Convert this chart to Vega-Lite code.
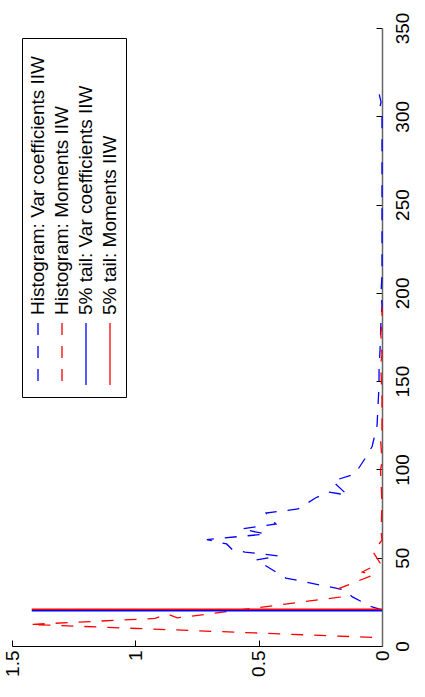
{
  "$schema": "https://vega.github.io/schema/vega-lite/v6.json",
  "width": 370,
  "height": 618,
  "autosize": {"type": "none"},
  "padding": {"left": 12, "top": 28, "right": 43, "bottom": 51},
  "background": "white",
  "config": {"view": {"stroke": null}},
  "data": {"values": [
    {"s": "Histogram: Var coefficients IIW", "xv": 20.4, "d": 0.0},
    {"s": "Histogram: Var coefficients IIW", "xv": 22.1, "d": 0.04},
    {"s": "Histogram: Var coefficients IIW", "xv": 27.8, "d": 0.12},
    {"s": "Histogram: Var coefficients IIW", "xv": 31.7, "d": 0.15},
    {"s": "Histogram: Var coefficients IIW", "xv": 38.5, "d": 0.39},
    {"s": "Histogram: Var coefficients IIW", "xv": 48.7, "d": 0.51},
    {"s": "Histogram: Var coefficients IIW", "xv": 51.0, "d": 0.42},
    {"s": "Histogram: Var coefficients IIW", "xv": 53.2, "d": 0.555},
    {"s": "Histogram: Var coefficients IIW", "xv": 54.4, "d": 0.605},
    {"s": "Histogram: Var coefficients IIW", "xv": 57.8, "d": 0.63},
    {"s": "Histogram: Var coefficients IIW", "xv": 60.3, "d": 0.71},
    {"s": "Histogram: Var coefficients IIW", "xv": 63.4, "d": 0.47},
    {"s": "Histogram: Var coefficients IIW", "xv": 66.3, "d": 0.57},
    {"s": "Histogram: Var coefficients IIW", "xv": 69.1, "d": 0.43},
    {"s": "Histogram: Var coefficients IIW", "xv": 72.0, "d": 0.45},
    {"s": "Histogram: Var coefficients IIW", "xv": 75.3, "d": 0.47},
    {"s": "Histogram: Var coefficients IIW", "xv": 77.6, "d": 0.34},
    {"s": "Histogram: Var coefficients IIW", "xv": 83.8, "d": 0.27},
    {"s": "Histogram: Var coefficients IIW", "xv": 87.2, "d": 0.22},
    {"s": "Histogram: Var coefficients IIW", "xv": 85.5, "d": 0.14},
    {"s": "Histogram: Var coefficients IIW", "xv": 93.4, "d": 0.2},
    {"s": "Histogram: Var coefficients IIW", "xv": 97.4, "d": 0.11},
    {"s": "Histogram: Var coefficients IIW", "xv": 105.9, "d": 0.07},
    {"s": "Histogram: Var coefficients IIW", "xv": 113.0, "d": 0.04},
    {"s": "Histogram: Var coefficients IIW", "xv": 125.0, "d": 0.02},
    {"s": "Histogram: Var coefficients IIW", "xv": 136.5, "d": 0.016},
    {"s": "Histogram: Var coefficients IIW", "xv": 147.8, "d": 0.012},
    {"s": "Histogram: Var coefficients IIW", "xv": 156.0, "d": 0.012},
    {"s": "Histogram: Var coefficients IIW", "xv": 167.6, "d": 0.008},
    {"s": "Histogram: Var coefficients IIW", "xv": 184.6, "d": 0.004},
    {"s": "Histogram: Var coefficients IIW", "xv": 193.0, "d": 0.0},
    {"s": "Histogram: Var coefficients IIW", "xv": 200.0, "d": 0.004},
    {"s": "Histogram: Var coefficients IIW", "xv": 210.0, "d": 0.0},
    {"s": "Histogram: Var coefficients IIW", "xv": 300.0, "d": 0.0},
    {"s": "Histogram: Var coefficients IIW", "xv": 303.0, "d": 0.012},
    {"s": "Histogram: Var coefficients IIW", "xv": 308.0, "d": 0.004},
    {"s": "Histogram: Var coefficients IIW", "xv": 313.0, "d": 0.012},
    {"s": "Histogram: Var coefficients IIW", "xv": 316.0, "d": 0.0},
    {"s": "Histogram: Moments IIW", "xv": 4.9, "d": 0.04},
    {"s": "Histogram: Moments IIW", "xv": 12.2, "d": 1.427},
    {"s": "Histogram: Moments IIW", "xv": 15.6, "d": 0.92},
    {"s": "Histogram: Moments IIW", "xv": 18.1, "d": 0.87},
    {"s": "Histogram: Moments IIW", "xv": 15.9, "d": 0.83},
    {"s": "Histogram: Moments IIW", "xv": 27.7, "d": 0.17},
    {"s": "Histogram: Moments IIW", "xv": 31.7, "d": 0.19},
    {"s": "Histogram: Moments IIW", "xv": 40.2, "d": 0.036},
    {"s": "Histogram: Moments IIW", "xv": 41.9, "d": 0.08},
    {"s": "Histogram: Moments IIW", "xv": 47.0, "d": 0.008},
    {"s": "Histogram: Moments IIW", "xv": 53.2, "d": 0.036},
    {"s": "Histogram: Moments IIW", "xv": 60.0, "d": 0.0},
    {"s": "Histogram: Moments IIW", "xv": 65.0, "d": 0.004},
    {"s": "Histogram: Moments IIW", "xv": 80.0, "d": 0.0},
    {"s": "Histogram: Moments IIW", "xv": 100.0, "d": 0.006},
    {"s": "Histogram: Moments IIW", "xv": 104.0, "d": 0.0},
    {"s": "Histogram: Moments IIW", "xv": 118.0, "d": 0.006},
    {"s": "Histogram: Moments IIW", "xv": 122.0, "d": 0.0},
    {"s": "Histogram: Moments IIW", "xv": 140.0, "d": 0.0},
    {"s": "Histogram: Moments IIW", "xv": 160.0, "d": 0.005},
    {"s": "Histogram: Moments IIW", "xv": 165.0, "d": 0.0},
    {"s": "Histogram: Moments IIW", "xv": 177.0, "d": 0.005},
    {"s": "Histogram: Moments IIW", "xv": 182.0, "d": 0.0},
    {"s": "Histogram: Moments IIW", "xv": 192.0, "d": 0.0},
    {"s": "5% tail: Var coefficients IIW", "xv": 19.95, "d": 0.0},
    {"s": "5% tail: Var coefficients IIW", "xv": 19.95, "d": 1.42},
    {"s": "5% tail: Moments IIW", "xv": 20.8, "d": 0.0},
    {"s": "5% tail: Moments IIW", "xv": 20.8, "d": 1.42}
  ]},
  "mark": {"type": "line", "strokeWidth": 1.3},
  "encoding": {
    "x": {
      "field": "d", "type": "quantitative",
      "scale": {"domain": [0, 1.5], "reverse": true, "nice": false, "zero": false},
      "axis": {
        "orient": "bottom", "title": null, "grid": false,
        "values": [0, 0.5, 1, 1.5], "format": "~g",
        "labelAngle": 270, "labelAlign": "right", "labelBaseline": "middle",
        "labelPadding": 10, "tickSize": -6, "tickColor": "black", "domainColor": "black",
        "labelFont": "Liberation Sans", "labelFontSize": 19, "labelColor": "black",
        "labelFlush": false, "labelOverlap": false, "labelBound": false
      }
    },
    "y": {
      "field": "xv", "type": "quantitative",
      "scale": {"domain": [0, 350], "nice": false, "zero": false},
      "axis": {
        "orient": "right", "title": null, "grid": false,
        "values": [0, 50, 100, 150, 200, 250, 300, 350], "format": "d",
        "labelAngle": 270, "labelAlign": "center", "labelBaseline": "top",
        "labelPadding": 17, "tickSize": -6, "tickColor": "black", "domainColor": "#666666", "domainWidth": 1.5,
        "labelFont": "Liberation Sans", "labelFontSize": 19, "labelColor": "black",
        "labelFlush": false, "labelOverlap": false, "labelBound": false
      }
    },
    "order": {"value": null},
    "color": {
      "field": "s", "type": "nominal",
      "scale": {
        "domain": ["Histogram: Var coefficients IIW", "Histogram: Moments IIW", "5% tail: Var coefficients IIW", "5% tail: Moments IIW"],
        "range": ["#0000ff", "#ff0000", "#0000ff", "#ff0000"]
      },
      "legend": {
        "title": null, "orient": "top-left", "offset": 10,
        "direction": "horizontal", "columns": 4, "columnPadding": 4,
        "symbolType": "stroke", "symbolSize": 3844, "symbolStrokeWidth": 1.3,
        "labelFont": "Liberation Sans", "labelFontSize": 19, "labelColor": "black", "labelLimit": 500,
        "strokeColor": "black", "fillColor": "white", "padding": 6, "clipHeight": 347,
        "encode": {
          "symbols": {"update": {"angle": {"value": 90}, "x": {"value": 10}, "y": {"value": 310}}},
          "labels": {"update": {"angle": {"value": 270}, "x": {"value": 10}, "y": {"value": 271}, "align": {"value": "left"}, "baseline": {"value": "middle"}}}
        }
      }
    },
    "strokeDash": {
      "field": "s", "type": "nominal",
      "scale": {
        "domain": ["Histogram: Var coefficients IIW", "Histogram: Moments IIW", "5% tail: Var coefficients IIW", "5% tail: Moments IIW"],
        "range": [[12, 11], [12, 11], [1, 0], [1, 0]]
      },
      "legend": {
        "title": null, "orient": "top-left", "offset": 10,
        "direction": "horizontal", "columns": 4, "columnPadding": 4,
        "symbolType": "stroke", "symbolSize": 3844, "symbolStrokeWidth": 1.3,
        "labelFont": "Liberation Sans", "labelFontSize": 19, "labelColor": "black", "labelLimit": 500,
        "strokeColor": "black", "fillColor": "white", "padding": 6, "clipHeight": 347,
        "encode": {
          "symbols": {"update": {"angle": {"value": 90}, "x": {"value": 10}, "y": {"value": 310}}},
          "labels": {"update": {"angle": {"value": 270}, "x": {"value": 10}, "y": {"value": 271}, "align": {"value": "left"}, "baseline": {"value": "middle"}}}
        }
      }
    }
  }
}
